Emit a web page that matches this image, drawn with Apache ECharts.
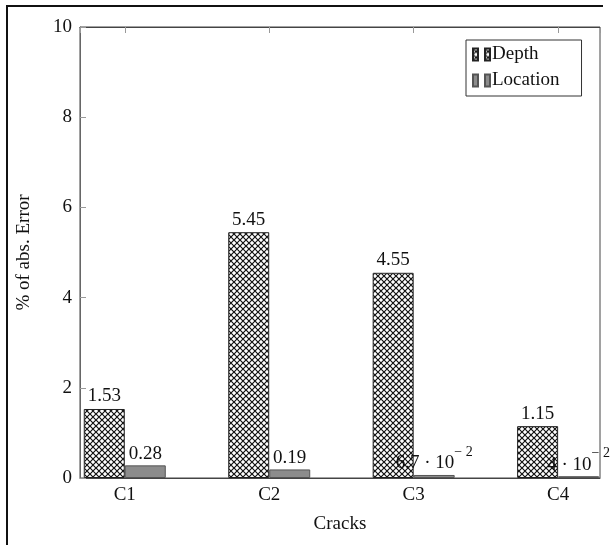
<!DOCTYPE html>
<html>
<head>
<meta charset="utf-8">
<script src="https://cdn.jsdelivr.net/npm/echarts@6/dist/echarts.min.js"></script>
<style>
  html, body { margin: 0; padding: 0; background: #fff; }
  #chart { width: 611px; height: 545px; }
</style>
</head>
<body>
<div id="chart"></div>
<script>
let cracks = ['C1', 'C2', 'C3', 'C4'];
let depth = [1.53, 5.45, 4.55, 1.15];
let location_ = [0.28, 0.19, 0.067, 0.04];
let depthLabels = ['1.53', '5.45', '4.55', '1.15'];
let locLabels = ['0.28', '0.19', '{b|6.7 · 10}{s|− 2}', '{b|4 · 10}{s|− 2}'];
let yTicks = [0, 10, 2];

let chart = echarts.init(document.getElementById('chart'));
let font = '"Liberation Serif", "DejaVu Serif", serif';
let fs = 19;

// crosshatch fill for the depth bars
let hatch = document.createElement('canvas');
hatch.width = 6;
hatch.height = 6;
let ctx = hatch.getContext('2d');
ctx.fillStyle = '#fff';
ctx.fillRect(0, 0, 6, 6);
ctx.strokeStyle = '#111';
ctx.lineWidth = 1.2;
ctx.beginPath();
ctx.moveTo(0, 0); ctx.lineTo(6, 6);
ctx.moveTo(6, 0); ctx.lineTo(0, 6);
ctx.stroke();

let depthData = depth.map(function (v, i) { return [i, v]; });
let locData = location_.map(function (v, i) { return [i, v]; });

let option = {
    animation: false,
    backgroundColor: '#fff',
    textStyle: { fontFamily: font },
    grid: {
        left: 80, right: 11, top: 27, bottom: 67,
        show: true, borderColor: '#444', borderWidth: 1
    },
    legend: {
        orient: 'vertical',
        left: 466, top: 40,
        padding: [5, 22, 6, 6],
        itemGap: 7,
        itemWidth: 17, itemHeight: 12,
        borderColor: '#333', borderWidth: 1,
        backgroundColor: '#fff',
        icon: 'path://M0,0h5v12h-5z M12,0h5v12h-5z',
        textStyle: { fontFamily: font, fontSize: fs, color: '#111', padding: [0, 0, 0, -3] },
        data: ['Depth', 'Location']
    },
    xAxis: [{
        type: 'value',
        min: -0.31, max: 3.29,
        position: 'bottom',
        name: 'Cracks',
        nameLocation: 'middle',
        nameGap: 37,
        nameTextStyle: { fontFamily: font, fontSize: fs, color: '#111' },
        axisLine: { onZero: false, lineStyle: { color: '#444' } },
        axisTick: { show: false },
        splitLine: { show: false },
        axisLabel: {
            fontFamily: font, fontSize: fs, color: '#111', margin: 8,
            formatter: function (v) {
                return Number.isInteger(v) && cracks[v] ? cracks[v] : '';
            }
        }
    }, {
        type: 'value',
        min: -0.31, max: 3.29,
        position: 'top',
        axisLine: { onZero: false, lineStyle: { color: '#444' } },
        axisTick: { inside: true, length: 6, lineStyle: { color: '#999' } },
        axisLabel: { show: false },
        splitLine: { show: false }
    }],
    yAxis: {
        type: 'value',
        min: yTicks[0], max: yTicks[1], interval: yTicks[2],
        name: '% of abs. Error',
        nameLocation: 'middle',
        nameGap: 46,
        nameTextStyle: { fontFamily: font, fontSize: fs, color: '#111' },
        axisLine: { show: true, onZero: false, lineStyle: { color: '#666' } },
        axisTick: { show: true, inside: true, length: 6, lineStyle: { color: '#999' } },
        splitLine: { show: false },
        axisLabel: { fontFamily: font, fontSize: fs, color: '#111', margin: 8 }
    },
    series: [{
        name: 'Depth',
        type: 'bar',
        data: depthData,
        barWidth: 41,
        barGap: '0%',
        itemStyle: {
            color: { image: hatch, repeat: 'repeat' },
            borderColor: '#222', borderWidth: 1
        },
        label: {
            show: true, position: 'top', distance: 3,
            fontFamily: font, fontSize: fs, color: '#111',
            formatter: function (p) { return depthLabels[p.dataIndex]; }
        }
    }, {
        name: 'Location',
        type: 'bar',
        data: locData,
        barWidth: 41,
        barGap: '0%',
        itemStyle: { color: '#8c8c8c', borderColor: '#555', borderWidth: 1 },
        label: {
            show: true, position: 'top', distance: 2,
            fontFamily: font, fontSize: fs, color: '#111',
            formatter: function (p) { return locLabels[p.dataIndex]; },
            rich: {
                b: { fontFamily: font, fontSize: fs, color: '#111', verticalAlign: 'bottom', lineHeight: 28 },
                s: { fontFamily: font, fontSize: 14, color: '#111', verticalAlign: 'top', lineHeight: 28 }
            }
        }
    }],
    graphic: [{
        type: 'line',
        shape: { x1: 7, y1: 6, x2: 603, y2: 6 },
        style: { stroke: '#111', lineWidth: 2 }
    }, {
        type: 'line',
        shape: { x1: 7, y1: 5, x2: 7, y2: 545 },
        style: { stroke: '#111', lineWidth: 2 }
    }]
};

chart.setOption(option);
</script>
</body>
</html>
